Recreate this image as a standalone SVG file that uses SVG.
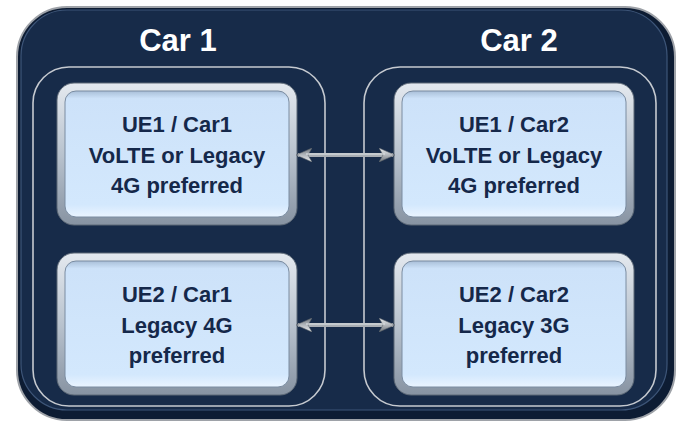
<svg xmlns="http://www.w3.org/2000/svg" width="679" height="423" viewBox="0 0 679 423">
  <defs>
    <linearGradient id="frameGrad" x1="0" y1="0" x2="0" y2="1">
      <stop offset="0" stop-color="#e4e9ef"/>
      <stop offset="0.5" stop-color="#b9c3ce"/>
      <stop offset="1" stop-color="#8793a2"/>
    </linearGradient>
    <linearGradient id="faceGrad" x1="0" y1="0" x2="0" y2="1">
      <stop offset="0" stop-color="#a9bfd8"/>
      <stop offset="0.06" stop-color="#cde2f9"/>
      <stop offset="0.9" stop-color="#d3e8fd"/>
      <stop offset="1" stop-color="#eaf4ff"/>
    </linearGradient>
    <linearGradient id="arrowGrad" x1="0" y1="0" x2="0" y2="1">
      <stop offset="0" stop-color="#eceef0"/>
      <stop offset="0.5" stop-color="#b4b8bd"/>
      <stop offset="1" stop-color="#6f757c"/>
    </linearGradient>
    <marker id="head" viewBox="0 0 16 14" refX="14" refY="7" markerWidth="16" markerHeight="14" markerUnits="userSpaceOnUse" orient="auto-start-reverse">
      <path d="M0,0 L16,7 L0,14 L4,7 Z" fill="url(#arrowGrad)" stroke="#5d636a" stroke-width="0.6"/>
    </marker>
  </defs>
  <style>
    .frame { fill: url(#frameGrad); stroke: #5c6876; stroke-width: 1; }
    .face { fill: url(#faceGrad); stroke: #7a8ca1; stroke-width: 1; }
    .panel { fill: none; stroke: #c6cad0; stroke-width: 1.6; }
    .title { font-family: "Liberation Sans", Arial, sans-serif; font-weight: bold; font-size: 31px; fill: #ffffff; text-anchor: middle; }
    .label { font-family: "Liberation Sans", Arial, sans-serif; font-weight: bold; font-size: 22px; fill: #15284a; text-anchor: middle; }
    .link { stroke: #a9aeb4; stroke-width: 4; fill: none; }
    .shine { stroke: #e2e5e8; stroke-width: 1.2; fill: none; }
  </style>

  <!-- outer container -->
  <g id="container">
    <rect x="17" y="7" width="658" height="413" rx="50" fill="#0d1c33" stroke="#9ea2a8" stroke-width="2"/>
    <rect x="21" y="10" width="646" height="400" rx="46" fill="#172b49" stroke="#3d5578" stroke-width="1.2"/>
  </g>

  <!-- car panels -->
  <g id="car1">
    <rect class="panel" x="33" y="67" width="292" height="339" rx="36"/>
    <text class="title" x="178" y="51">Car 1</text>
  </g>
  <g id="car2">
    <rect class="panel" x="364" y="67" width="292" height="339" rx="36"/>
    <text class="title" x="519" y="51">Car 2</text>
  </g>

  <!-- devices -->
  <g id="ue1-car1">
    <rect class="frame" x="57" y="83" width="240" height="142" rx="17"/>
    <rect class="face" x="65" y="91" width="224" height="126" rx="11"/>
    <text class="label" x="177" y="132">UE1 / Car1</text>
    <text class="label" x="177" y="163">VoLTE or Legacy</text>
    <text class="label" x="177" y="193">4G preferred</text>
  </g>
  <g id="ue2-car1">
    <rect class="frame" x="57" y="253" width="240" height="142" rx="17"/>
    <rect class="face" x="65" y="261" width="224" height="126" rx="11"/>
    <text class="label" x="177" y="302">UE2 / Car1</text>
    <text class="label" x="177" y="333">Legacy 4G</text>
    <text class="label" x="177" y="363">preferred</text>
  </g>
  <g id="ue1-car2">
    <rect class="frame" x="394" y="83" width="240" height="142" rx="17"/>
    <rect class="face" x="402" y="91" width="224" height="126" rx="11"/>
    <text class="label" x="514" y="132">UE1 / Car2</text>
    <text class="label" x="514" y="163">VoLTE or Legacy</text>
    <text class="label" x="514" y="193">4G preferred</text>
  </g>
  <g id="ue2-car2">
    <rect class="frame" x="394" y="253" width="240" height="142" rx="17"/>
    <rect class="face" x="402" y="261" width="224" height="126" rx="11"/>
    <text class="label" x="514" y="302">UE2 / Car2</text>
    <text class="label" x="514" y="333">Legacy 3G</text>
    <text class="label" x="514" y="363">preferred</text>
  </g>

  <!-- connectors -->
  <g id="connectors">
    <path class="link" d="M298,155 H393" marker-start="url(#head)" marker-end="url(#head)"/>
    <path class="shine" d="M306,154 H385"/>
    <path class="link" d="M298,325 H393" marker-start="url(#head)" marker-end="url(#head)"/>
    <path class="shine" d="M306,324 H385"/>
  </g>
</svg>
